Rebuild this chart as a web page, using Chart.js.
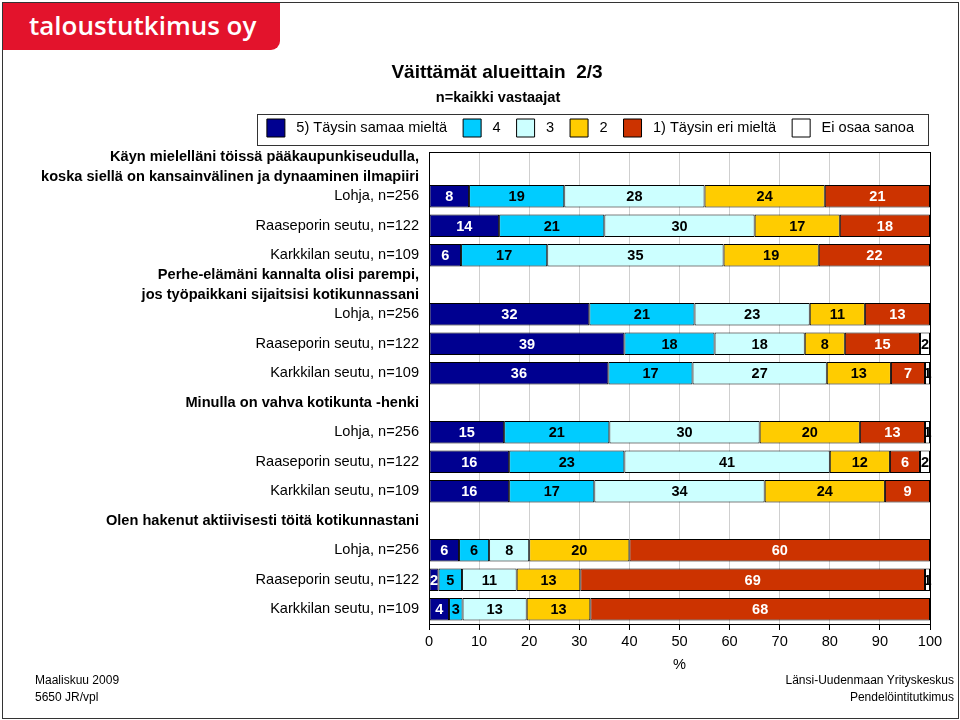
<!DOCTYPE html>
<html><head><meta charset="utf-8">
<script src="https://cdn.jsdelivr.net/npm/chart.js@4.4.0/dist/chart.umd.min.js"></script>
<style>
html,body{margin:0;padding:0;background:#fff;}
#wrap{position:relative;width:960px;height:720px;overflow:hidden;font-family:"Liberation Sans",Arial,sans-serif;color:#000;}
#frame{position:absolute;left:2px;top:2px;width:957px;height:717px;border:1px solid #333;box-sizing:border-box;pointer-events:none;}
#logo{position:absolute;left:3px;top:3px;width:277px;height:47px;background:#e3132c;border-bottom-right-radius:9px;}
#logo span{position:absolute;left:26px;top:6px;color:#fff;font-family:"Open Sans",sans-serif;font-weight:600;font-size:26px;line-height:32px;white-space:nowrap;}
#chart{position:absolute;left:0;top:0;}
.t{position:absolute;white-space:nowrap;}
#title{left:297px;width:400px;text-align:center;top:60px;font-weight:bold;font-size:19px;line-height:23px;}
#sub{left:298px;width:400px;text-align:center;top:88px;font-weight:bold;font-size:14.6px;line-height:18px;}
.foot{font-size:12px;line-height:17px;}
</style></head>
<body>
<div id="wrap">
<canvas id="chart" width="960" height="720"></canvas>
<div id="frame"></div>
<div id="logo"><span>taloustutkimus oy</span></div>
<div class="t" id="title">Väittämät alueittain&nbsp; 2/3</div>
<div class="t" id="sub">n=kaikki vastaajat</div>
<div class="t foot" style="left:35px;top:672px;">Maaliskuu 2009<br>5650 JR/vpl</div>
<div class="t foot" style="right:6px;top:672px;text-align:right;">Länsi-Uudenmaan Yrityskeskus<br>Pendelöintitutkimus</div>
</div>
<script>
const categories = [
  ["Käyn mielelläni töissä pääkaupunkiseudulla,", "koska siellä on kansainvälinen ja dynaaminen ilmapiiri"],
  "Lohja, n=256", "Raaseporin seutu, n=122", "Karkkilan seutu, n=109",
  ["Perhe-elämäni kannalta olisi parempi,", "jos työpaikkani sijaitsisi kotikunnassani"],
  "Lohja, n=256", "Raaseporin seutu, n=122", "Karkkilan seutu, n=109",
  "Minulla on vahva kotikunta -henki",
  "Lohja, n=256", "Raaseporin seutu, n=122", "Karkkilan seutu, n=109",
  "Olen hakenut aktiivisesti töitä kotikunnastani",
  "Lohja, n=256", "Raaseporin seutu, n=122", "Karkkilan seutu, n=109"
];
const headerRows = [0, 4, 8, 12];
const seriesNames = ["5) Täysin samaa mieltä", "4", "3", "2", "1) Täysin eri mieltä", "Ei osaa sanoa"];
const s5  = [null, 8, 14, 6.4, null, 32, 39, 35.8, null, 15, 16, 16, null, 6, 1.9, 4.0];
const s4  = [null, 19, 21, 17.2, null, 21, 18, 16.8, null, 21, 23, 17, null, 6, 4.7, 2.7];
const s3  = [null, 28, 30, 35.2, null, 23, 18, 26.8, null, 30, 41, 34, null, 8, 10.9, 12.8];
const s2  = [null, 24, 17, 19.0, null, 11, 8, 12.8, null, 20, 12, 24, null, 20, 12.7, 12.7];
const s1  = [null, 21, 18, 22.2, null, 13, 15, 6.8, null, 13, 6, 9, null, 60, 68.8, 67.8];
const sEos= [null, null, null, null, null, null, 2, 1.0, null, 1, 2, null, null, null, 1.0, null];
const xTicks = [0, 10, 20, 30, 40, 50, 60, 70, 80, 90, 100];

const seriesValues = [s5, s4, s3, s2, s1, sEos];
const fillColors = ["#000090", "#00ccff", "#ccffff", "#ffcc00", "#cc3300", "#ffffff"];
const textColors = ["#fff", "#000", "#000", "#000", "#fff", "#000"];
const FAM = '"Liberation Sans", Arial, sans-serif';
const FS = 14.6;

const segLabels = {
  id: 'segLabels',
  afterDatasetsDraw(chart) {
    const ctx = chart.ctx;
    ctx.save();
    ctx.font = 'bold 14.5px ' + FAM;
    ctx.textAlign = 'center';
    ctx.textBaseline = 'middle';
    chart.data.datasets.forEach((ds, di) => {
      const meta = chart.getDatasetMeta(di);
      meta.data.forEach((bar, i) => {
        const v = ds.data[i];
        if (v == null || v === 0) return;
        ctx.fillStyle = textColors[di];
        ctx.fillText(String(Math.round(v)), (bar.x + bar.base) / 2, bar.y + 1);
      });
    });
    ctx.restore();
  }
};
const frames = {
  id: 'frames',
  afterDraw(chart) {
    const ctx = chart.ctx, a = chart.chartArea;
    ctx.save();
    ctx.strokeStyle = '#000';
    ctx.lineWidth = 1;
    ctx.strokeRect(Math.round(a.left) + 0.5, Math.round(a.top) + 0.5, Math.round(a.right - a.left), Math.round(a.bottom - a.top));
    const hb = chart.legend.legendHitBoxes;
    if (hb && hb.length) {
      const l = hb[0].left - 10, r = hb[hb.length - 1].left + hb[hb.length - 1].width + 14;
      const t = hb[0].top - 5, b = hb[0].top + 26;
      ctx.strokeStyle = '#333';
      ctx.strokeRect(Math.round(l) + 0.5, Math.round(t) + 0.5, Math.round(r - l), Math.round(b - t));
    }
    ctx.restore();
  }
};

new Chart(document.getElementById('chart'), {
  type: 'bar',
  data: {
    labels: categories,
    datasets: seriesNames.map((n, i) => ({
      label: n,
      data: seriesValues[i],
      backgroundColor: fillColors[i],
      borderColor: '#000',
      borderWidth: 1,
      borderSkipped: false,
      barPercentage: 0.76,
      categoryPercentage: 1
    }))
  },
  options: {
    indexAxis: 'y',
    responsive: false,
    animation: false,
    devicePixelRatio: 1,
    layout: { padding: { top: 103, right: 30, bottom: 46, left: 0 } },
    plugins: {
      title: { display: false },
      subtitle: { display: true, text: ' ', position: 'top', weight: 500, font: { size: 1, lineHeight: 1 }, padding: { top: 0, bottom: 4 } },
      tooltip: { enabled: false },
      legend: {
        position: 'top',
        align: 'end',
        labels: {
          boxWidth: 18, boxHeight: 18, padding: 16, color: '#000',
          font: { size: FS, family: FAM },
          generateLabels: (chart) => Chart.defaults.plugins.legend.labels.generateLabels(chart)
            .map(l => Object.assign(l, { text: ' ' + l.text }))
        }
      }
    },
    scales: {
      x: {
        stacked: true, min: 0, max: 100,
        afterBuildTicks(s) { s.ticks = xTicks.map(v => ({ value: v })); },
        ticks: { color: '#000', font: { size: FS, family: FAM }, padding: 3, maxRotation: 0 },
        grid: { color: '#cfcfcf', tickColor: '#000', tickLength: 6 },
        border: { color: '#000' },
        title: { display: true, text: '%', color: '#000', font: { size: FS, family: FAM }, padding: { top: 0, bottom: 0 } },
        afterFit(s) { s.height = 50; }
      },
      y: {
        stacked: true,
        ticks: {
          color: '#000', padding: 10, autoSkip: false,
          font: (c) => headerRows.includes(c.index)
            ? { size: FS, weight: 'bold', lineHeight: 1.37, family: FAM }
            : { size: FS, family: FAM }
        },
        grid: { display: false, drawTicks: false },
        border: { display: true, color: '#000' },
        afterFit(s) { s.width = 429; }
      }
    }
  },
  plugins: [segLabels, frames]
});
</script>
</body></html>
